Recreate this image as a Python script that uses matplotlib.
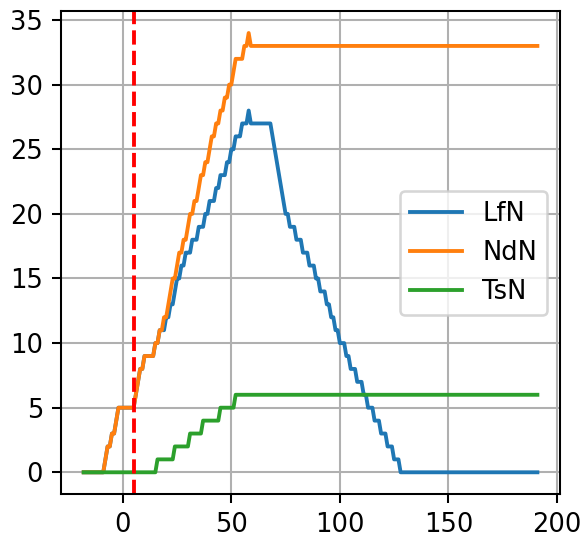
import matplotlib
matplotlib.use("Agg")
import matplotlib.pyplot as plt

# corner points of each count series (time, count)
lfn_t = [-18, -9, -8, -7, -6, -5, -4, -3, -2, 5, 6, 7, 8, 9, 10, 14, 15, 16,
         17, 18, 19, 20, 21, 22, 23, 24, 25, 26, 27, 28, 29, 30, 31, 32, 33, 34,
         35, 36, 37, 38, 39, 40, 41, 42, 43, 44, 45, 46, 47, 48, 49, 50, 51, 52,
         53, 54, 55, 56, 57, 58, 59, 68,
         69, 70, 71, 72, 73, 74, 75, 76, 77, 79, 80, 82, 83, 85, 86, 88, 89, 90,
         91, 93, 94, 95, 96, 97, 98, 99, 100, 102, 103, 104, 105, 107, 108, 110,
         111, 112, 113, 115, 116, 118, 119, 121, 122, 124, 125, 127, 128, 191]
lfn_v = [0, 0, 1, 2, 2, 3, 3, 4, 5, 5, 6, 7, 8, 8, 9, 9, 10, 10,
         11, 11, 11, 12, 12, 13, 13, 14, 15, 15, 16, 16, 17, 17, 17, 18, 18, 18,
         19, 19, 19, 20, 20, 21, 21, 21, 22, 22, 23, 23, 23, 24, 24, 25, 25, 26,
         26, 26, 27, 27, 27, 28, 27, 27,
         26, 25, 24, 23, 22, 21, 20, 20, 19, 19, 18, 18, 17, 17, 16, 16, 15, 15,
         14, 14, 13, 13, 12, 12, 11, 11, 10, 10, 9, 9, 8, 8, 7, 7,
         6, 6, 5, 5, 4, 4, 3, 3, 2, 2, 1, 1, 0, 0]

ndn_t = [-18, -9, -8, -7, -6, -5, -4, -3, -2, 5, 6, 7, 8, 9, 10, 14, 15, 16,
         17, 18, 19, 20, 21, 22, 23, 24, 25, 26, 27, 28, 29, 30, 31, 32, 33, 34,
         35, 36, 37, 38, 39, 40, 41, 42, 43, 44, 45, 46, 47, 48, 49, 50, 51, 52,
         55, 56, 57, 58, 59, 191]
ndn_v = [0, 0, 1, 2, 2, 3, 3, 4, 5, 5, 6, 7, 8, 8, 9, 9, 10, 10,
         11, 11, 12, 12, 13, 14, 15, 15, 16, 17, 17, 18, 18, 19, 20, 20, 21, 21,
         22, 23, 23, 24, 24, 25, 26, 26, 27, 27, 28, 28, 29, 29, 30, 30, 31, 32,
         32, 33, 33, 34, 33, 33]

tsn_t = [-18, 15, 16, 23, 24, 30, 31, 36, 37, 44, 45, 51, 52, 191]
tsn_v = [0, 0, 1, 1, 2, 2, 3, 3, 4, 4, 5, 5, 6, 6]

EVENT_T = 5

DPI = 185
fig = plt.figure(figsize=(584 / DPI, 539 / DPI), dpi=DPI)
ax = fig.add_axes([0.1045, 0.083, 0.8545, 0.8965])

ax.plot(lfn_t, lfn_v, label="LfN")
ax.plot(ndn_t, ndn_v, label="NdN")
ax.plot(tsn_t, tsn_v, label="TsN")
ax.axvline(EVENT_T, color="r", linestyle="--")

ax.set_yticks(range(0, 36, 5))
ax.grid(True)
ax.legend(loc="center right")

fig.savefig("out.png", dpi=DPI)
